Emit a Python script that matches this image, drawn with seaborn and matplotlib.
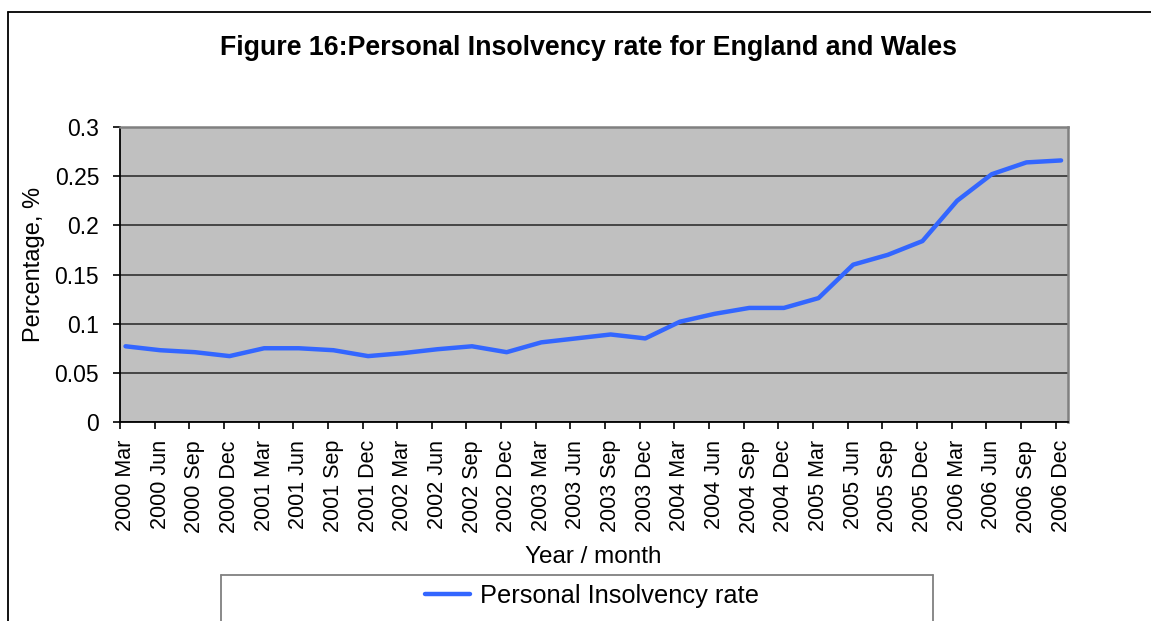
import matplotlib
matplotlib.use("Agg")
import matplotlib.pyplot as plt
from matplotlib.lines import Line2D
from matplotlib.ticker import FixedLocator
import seaborn as sns
import pandas as pd

# Quarterly periods and personal insolvency rate (%)
periods = [
    "2000 Mar", "2000 Jun", "2000 Sep", "2000 Dec",
    "2001 Mar", "2001 Jun", "2001 Sep", "2001 Dec",
    "2002 Mar", "2002 Jun", "2002 Sep", "2002 Dec",
    "2003 Mar", "2003 Jun", "2003 Sep", "2003 Dec",
    "2004 Mar", "2004 Jun", "2004 Sep", "2004 Dec",
    "2005 Mar", "2005 Jun", "2005 Sep", "2005 Dec",
    "2006 Mar", "2006 Jun", "2006 Sep", "2006 Dec",
]
rates = [
    0.077, 0.073, 0.071, 0.067,
    0.075, 0.075, 0.073, 0.067,
    0.070, 0.074, 0.077, 0.071,
    0.081, 0.085, 0.089, 0.085,
    0.102, 0.110, 0.116, 0.116,
    0.126, 0.160, 0.170, 0.184,
    0.225, 0.252, 0.264, 0.266,
]
y_ticks = [0, 0.05, 0.1, 0.15, 0.2, 0.25, 0.3]
y_tick_labels = ["0", "0.05", "0.1", "0.15", "0.2", "0.25", "0.3"]
series_name = "Personal Insolvency rate"

df = pd.DataFrame({"period": periods, "rate": rates})

sns.set_theme(style="white")
plt.rcParams["font.family"] = ["Liberation Sans", "DejaVu Sans"]
plt.rcParams["text.color"] = "black"
plt.rcParams["axes.labelcolor"] = "black"

W, H = 1151, 621
fig = plt.figure(figsize=(W / 100, H / 100), dpi=100)
fig.patch.set_facecolor("white")
ax = fig.add_axes([120 / W, 1 - 422 / H, (1068 - 120) / W, (422 - 127) / H])
ax.set_facecolor("#C0C0C0")

line_color = "#3366FF"
sns.lineplot(data=df, x="period", y="rate", ax=ax, color=line_color,
             linewidth=3.2, sort=False, label=series_name, legend=False)

# y axis
ax.set_ylim(0, 0.3)
ax.set_yticks(y_ticks)
ax.set_yticklabels(y_tick_labels)
ax.yaxis.grid(True, color="#303030", linewidth=1.2)
ax.set_axisbelow(True)

# x axis: labels on the points, tick marks slightly to the left
n = len(periods)
ax.set_xlim(-0.16, n - 1 + 0.2)
ax.set_xticks(range(n))
ax.set_xticklabels(periods, rotation=90)
ax.xaxis.set_minor_locator(FixedLocator([i - 0.16 for i in range(n)]))
ax.tick_params(axis="x", which="major", length=0, pad=13, labelsize=15.5,
               labelcolor="black")
ax.tick_params(axis="x", which="minor", length=5, width=1.2, color="black",
               direction="out", bottom=True)
ax.tick_params(axis="y", which="major", length=5, width=1.2, color="black",
               direction="out", left=True, pad=10, labelsize=16.5,
               labelcolor="black")

for side in ("left", "bottom"):
    ax.spines[side].set_color("black")
    ax.spines[side].set_linewidth(1.3)
for side in ("top", "right"):
    ax.spines[side].set_color("#808080")
    ax.spines[side].set_linewidth(1.8)

ax.set_xlabel("")
ax.set_ylabel("")

# Titles and axis labels
fig.text(588 / W, 1 - 48 / H,
         "Figure 16:Personal Insolvency rate for England and Wales",
         ha="center", va="center", fontsize=19.3, fontweight="bold",
         color="black")
fig.text(34 / W, 1 - 264 / H, "Percentage, %", rotation=90,
         ha="center", va="center", fontsize=17, color="black")
fig.text(593 / W, 1 - 557 / H, "Year / month",
         ha="center", va="center", fontsize=17.5, color="black")

# Outer chart border
fig.add_artist(Line2D([8 / W, 8 / W], [0, 1 - 12 / H], transform=fig.transFigure,
                      color="black", linewidth=1.3))
fig.add_artist(Line2D([8 / W, 1], [1 - 12 / H, 1 - 12 / H], transform=fig.transFigure,
                      color="black", linewidth=1.3))

# Legend box
lx0, lx1, ly0 = 221 / W, 933 / W, 1 - 575 / H
for xs, ys in (([lx0, lx1], [ly0, ly0]), ([lx0, lx0], [0, ly0]), ([lx1, lx1], [0, ly0])):
    fig.add_artist(Line2D(xs, ys, transform=fig.transFigure,
                          color="#808080", linewidth=1.3))
handle = Line2D([], [], color=line_color, linewidth=3.2)
leg = fig.legend([handle], [series_name], loc="center",
                 bbox_to_anchor=(592 / W, 1 - 596 / H), frameon=False,
                 fontsize=18.3, handlelength=1.8, handletextpad=0.4,
                 borderpad=0)
for t in leg.get_texts():
    t.set_color("black")

fig.savefig("out.png", dpi=100)
